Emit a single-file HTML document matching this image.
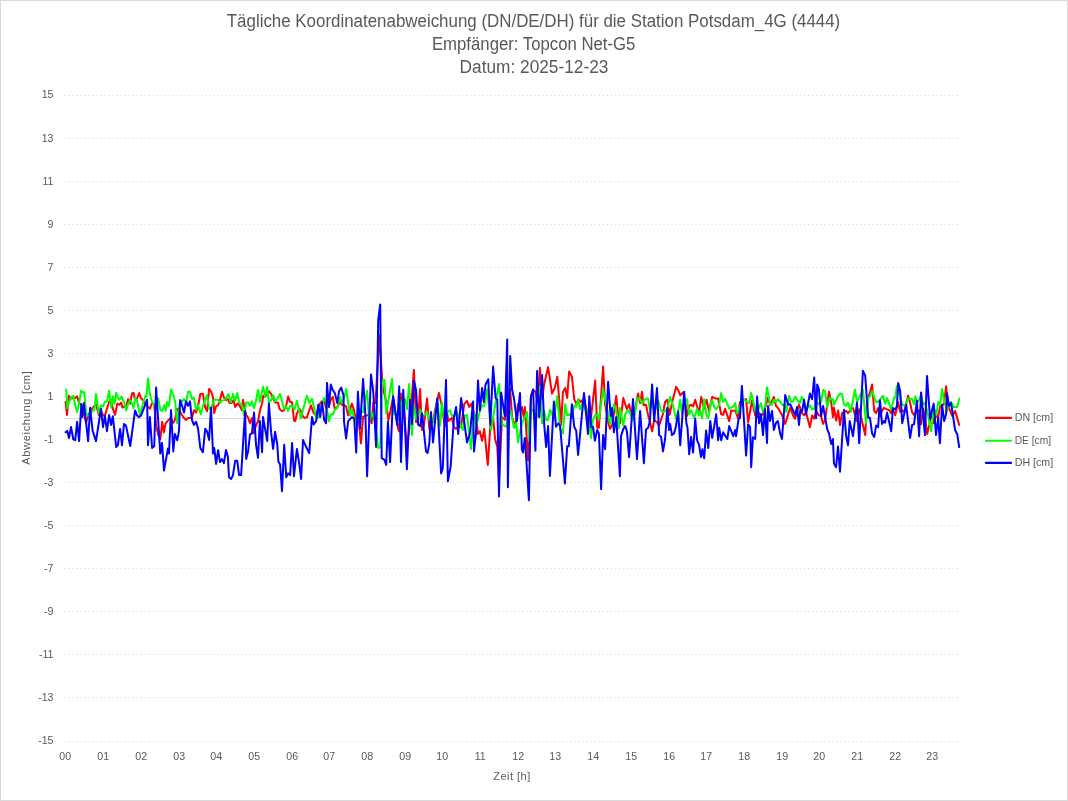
<!DOCTYPE html>
<html lang="de"><head><meta charset="utf-8"><title>Tägliche Koordinatenabweichung</title>
<style>
html,body{margin:0;padding:0;background:#fff;}
body{width:1068px;height:801px;overflow:hidden;font-family:"Liberation Sans",sans-serif;}
svg{display:block;}
text{font-family:"Liberation Sans",sans-serif;fill:#595959;}
.t{font-size:18px;text-anchor:middle;}
.a{font-size:10.6px;}
</style></head><body>
<svg width="1068" height="801" viewBox="0 0 1068 801">
<rect x="0.5" y="0.5" width="1067" height="800" fill="#fff" stroke="#D9D9D9" stroke-width="1"/>
<text class="t" x="533.5" y="27.4" textLength="613.5" lengthAdjust="spacingAndGlyphs">Tägliche Koordinatenabweichung (DN/DE/DH) für die Station Potsdam_4G (4444)</text>
<text class="t" x="533.7" y="50.4" textLength="203.5" lengthAdjust="spacingAndGlyphs">Empfänger: Topcon Net-G5</text>
<text class="t" x="534" y="72.5" textLength="148.8" lengthAdjust="spacingAndGlyphs">Datum: 2025-12-23</text>
<g stroke="#D9D9D9" stroke-width="1" stroke-dasharray="1.2 2.82" fill="none">
<line x1="64.2" y1="95.5" x2="959.5" y2="95.5"/>
<line x1="64.2" y1="138.5" x2="959.5" y2="138.5"/>
<line x1="64.2" y1="181.5" x2="959.5" y2="181.5"/>
<line x1="64.2" y1="224.5" x2="959.5" y2="224.5"/>
<line x1="64.2" y1="267.5" x2="959.5" y2="267.5"/>
<line x1="64.2" y1="310.5" x2="959.5" y2="310.5"/>
<line x1="64.2" y1="353.5" x2="959.5" y2="353.5"/>
<line x1="64.2" y1="396.5" x2="959.5" y2="396.5"/>
<line x1="64.2" y1="439.5" x2="959.5" y2="439.5"/>
<line x1="64.2" y1="482.5" x2="959.5" y2="482.5"/>
<line x1="64.2" y1="525.5" x2="959.5" y2="525.5"/>
<line x1="64.2" y1="568.5" x2="959.5" y2="568.5"/>
<line x1="64.2" y1="611.5" x2="959.5" y2="611.5"/>
<line x1="64.2" y1="654.5" x2="959.5" y2="654.5"/>
<line x1="64.2" y1="697.5" x2="959.5" y2="697.5"/>
<line x1="64.2" y1="741.5" x2="959.5" y2="741.5"/>
</g>
<line x1="64.2" y1="418.5" x2="959.5" y2="418.5" stroke="#D9D9D9" stroke-width="1"/>
<g class="a" text-anchor="end">
<text x="53.5" y="98.4">15</text>
<text x="53.5" y="141.5">13</text>
<text x="53.5" y="184.5">11</text>
<text x="53.5" y="227.6">9</text>
<text x="53.5" y="270.7">7</text>
<text x="53.5" y="313.7">5</text>
<text x="53.5" y="356.8">3</text>
<text x="53.5" y="399.9">1</text>
<text x="53.5" y="442.9">-1</text>
<text x="53.5" y="486.0">-3</text>
<text x="53.5" y="529.1">-5</text>
<text x="53.5" y="572.1">-7</text>
<text x="53.5" y="615.2">-9</text>
<text x="53.5" y="658.3">-11</text>
<text x="53.5" y="701.3">-13</text>
<text x="53.5" y="744.4">-15</text>
</g>
<g class="a" text-anchor="middle">
<text x="65.2" y="760">00</text>
<text x="103.2" y="760">01</text>
<text x="141.2" y="760">02</text>
<text x="179.2" y="760">03</text>
<text x="216.2" y="760">04</text>
<text x="254.2" y="760">05</text>
<text x="292.2" y="760">06</text>
<text x="329.2" y="760">07</text>
<text x="367.2" y="760">08</text>
<text x="405.2" y="760">09</text>
<text x="442.2" y="760">10</text>
<text x="480.2" y="760">11</text>
<text x="518.2" y="760">12</text>
<text x="555.2" y="760">13</text>
<text x="593.2" y="760">14</text>
<text x="631.2" y="760">15</text>
<text x="669.2" y="760">16</text>
<text x="706.2" y="760">17</text>
<text x="744.2" y="760">18</text>
<text x="782.2" y="760">19</text>
<text x="819.2" y="760">20</text>
<text x="857.2" y="760">21</text>
<text x="895.2" y="760">22</text>
<text x="932.2" y="760">23</text>
</g>
<text class="a" style="font-size:11px" text-anchor="middle" x="511.7" y="779.6" textLength="37" lengthAdjust="spacing">Zeit [h]</text>
<text class="a" style="font-size:11px" text-anchor="middle" transform="translate(29.8,418) rotate(-90)" textLength="93.6" lengthAdjust="spacing">Abweichung [cm]</text>
<polyline points="65.6,402.0 67.0,414.9 68.8,395.8 71.0,398.6 73.3,398.0 75.2,398.0 77.1,396.3 79.1,403.1 81.3,404.8 83.6,413.2 86.1,422.7 88.1,415.4 92.0,408.7 96.0,404.2 98.8,414.9 101.0,410.9 103.3,415.4 104.9,415.4 109.1,402.0 111.1,399.7 112.8,408.7 115.1,414.9 117.3,403.6 119.6,404.8 121.2,402.5 122.4,407.6 126.3,405.3 128.2,399.1 130.2,403.6 131.9,393.5 133.6,393.0 135.1,399.7 137.0,398.6 139.2,393.0 141.1,398.6 143.7,400.8 145.4,404.2 147.1,405.9 149.9,408.7 152.1,403.1 154.2,404.2 156.1,425.6 158.3,435.1 160.3,439.0 162.2,421.8 163.9,432.3 165.6,423.3 169.0,419.4 171.0,418.8 173.3,422.7 174.9,419.9 177.2,408.7 179.0,409.7 182.1,415.3 184.0,418.1 186.1,420.0 188.0,418.1 190.0,417.9 191.9,417.8 193.9,410.3 196.1,412.5 198.1,405.8 200.3,394.0 202.9,393.8 205.2,407.5 207.1,411.1 209.1,388.9 211.0,391.2 213.0,397.3 214.2,413.1 216.1,406.3 218.1,405.2 220.0,400.2 222.0,391.7 223.9,397.3 226.0,400.2 227.9,399.0 229.6,403.0 231.6,403.0 233.5,400.2 235.2,406.9 237.4,403.5 239.7,405.8 241.9,410.3 243.0,399.8 245.1,410.8 246.4,415.3 248.1,417.6 250.0,423.2 252.0,418.1 253.7,433.3 256.0,425.4 258.0,421.5 259.9,410.8 262.1,403.0 263.3,395.7 265.3,396.8 267.2,394.0 268.9,391.2 271.1,394.0 273.1,398.5 275.1,402.4 277.9,402.4 279.6,409.1 281.8,411.1 284.0,410.3 286.3,405.2 288.1,396.6 290.1,402.0 292.1,402.2 294.0,420.5 295.2,421.1 296.9,413.8 299.1,408.7 300.8,410.9 303.0,416.6 304.9,417.9 307.0,417.1 310.9,405.3 313.7,413.2 316.2,415.4 318.2,408.7 320.2,403.1 322.1,400.8 324.2,402.0 326.1,407.6 328.9,406.4 330.8,399.7 332.8,396.9 334.8,409.3 337.3,407.0 340.1,402.0 341.8,404.8 344.0,405.3 346.1,406.4 348.2,415.4 350.2,408.7 351.9,403.6 354.2,410.9 356.2,422.2 358.1,413.2 360.9,443.3 363.1,416.6 367.1,415.4 369.3,414.3 371.6,423.3 373.3,402.5 375.5,403.1 379.3,335.3 382.8,388.5 384.5,394.1 386.2,402.0 388.4,420.5 390.7,409.8 393.1,397.5 395.1,410.9 398.1,428.9 399.2,431.2 401.2,393.5 403.3,399.7 406.9,448.7 410.0,422.2 413.9,369.9 416.1,422.2 418.1,419.9 420.1,389.0 422.0,430.0 423.7,426.7 427.1,398.6 429.3,428.9 431.0,418.8 433.0,422.2 434.9,410.9 438.9,393.0 442.0,406.4 444.8,426.7 447.3,414.3 448.4,421.1 451.8,417.9 454.0,427.2 456.1,428.9 458.2,426.7 461.1,426.7 464.2,404.2 467.0,400.8 469.2,407.0 471.5,403.6 473.1,410.4 476.0,418.8 478.0,434.0 479.9,431.2 482.1,440.7 484.2,428.9 487.8,464.9 490.3,426.7 493.1,417.7 495.1,439.0 497.3,446.9 499.0,482.9 502.0,417.1 505.1,419.9 508.1,404.2 510.1,389.0 512.1,417.1 515.2,427.2 518.0,404.2 520.0,410.9 521.9,407.0 523.9,417.7 524.9,407.0 528.1,460.4 530.9,397.5 533.1,389.6 535.4,391.8 538.2,403.1 539.9,367.7 542.1,398.6 544.2,384.0 548.1,367.1 552.0,393.5 554.8,387.9 557.3,376.7 561.2,424.4 562.9,392.4 565.2,387.9 567.2,398.0 569.1,371.6 571.9,376.7 574.2,399.1 576.2,403.6 578.7,399.7 580.9,402.0 584.0,398.0 586.5,410.4 589.3,424.4 591.2,415.4 595.2,380.6 597.2,427.8 598.9,427.8 603.1,366.6 605.1,404.2 608.4,423.3 610.1,428.9 612.4,424.4 616.2,395.8 618.1,414.3 620.1,423.3 623.3,398.0 626.9,409.3 629.1,404.2 630.8,410.9 633.0,415.4 634.9,410.9 638.1,393.5 640.1,403.1 642.0,391.8 643.7,405.3 646.0,404.8 648.2,415.4 649.9,422.2 652.1,431.2 654.2,419.9 657.0,422.2 659.1,425.6 662.8,414.3 665.1,402.0 667.3,399.7 669.6,414.9 672.0,403.1 676.1,386.8 678.2,390.2 680.2,395.2 683.0,392.4 685.3,402.0 687.0,416.0 689.2,405.9 691.1,404.8 693.1,406.4 695.2,399.7 699.1,413.2 701.2,396.9 704.2,408.7 706.6,399.7 708.9,410.9 712.2,396.9 715.6,398.6 718.1,398.6 721.2,414.3 723.1,414.9 725.1,408.7 729.2,421.1 731.2,410.4 733.3,410.9 735.2,410.4 738.0,418.2 740.0,402.0 741.9,404.2 743.9,399.7 746.1,399.1 748.1,422.2 752.0,400.8 755.2,415.4 757.1,417.1 759.1,413.2 761.0,415.4 763.0,414.3 764.9,408.7 768.1,397.5 770.0,404.8 773.9,396.9 776.0,405.9 778.4,408.7 782.0,414.9 785.2,423.9 790.2,407.6 793.0,415.4 795.1,418.8 799.0,404.8 802.0,413.2 804.0,415.4 806.0,412.1 809.9,427.2 812.1,415.4 814.2,418.8 816.1,410.9 818.9,415.4 821.1,416.0 823.1,423.9 825.1,419.9 829.0,391.8 831.2,402.0 832.9,417.1 833.9,407.6 836.2,420.5 838.1,410.4 840.1,425.0 842.1,413.2 844.0,412.1 846.1,410.9 848.0,413.2 850.8,409.3 853.0,408.1 857.0,421.1 859.2,409.3 865.2,435.1 867.1,399.7 869.9,393.0 872.1,384.5 874.2,410.9 876.1,413.2 878.1,408.1 880.0,416.6 882.0,410.9 883.9,407.8 887.1,409.3 889.6,410.4 891.2,413.2 892.9,408.7 895.2,415.4 898.2,402.0 900.2,412.1 902.2,410.4 904.2,412.1 908.1,395.8 910.0,402.0 912.0,412.1 914.0,414.9 917.1,409.8 919.1,410.9 921.0,424.4 923.0,408.7 924.9,416.6 927.2,434.0 929.4,424.4 931.1,413.2 933.9,423.3 936.2,414.3 938.1,417.7 940.1,406.4 942.1,405.3 944.0,404.2 946.1,386.2 948.0,405.3 952.2,416.0 955.1,410.9 959.2,425.0" fill="none" stroke="#FF0000" stroke-width="2" stroke-linejoin="round" stroke-linecap="round"/>
<polyline points="66.2,389.6 67.3,408.1 69.0,402.0 71.0,398.0 73.3,395.8 75.2,405.3 77.1,412.1 79.1,403.1 81.1,390.7 82.5,392.4 84.2,392.1 86.1,413.2 88.1,416.0 90.1,413.8 92.6,410.9 94.3,410.4 96.0,393.9 98.8,413.2 101.0,405.3 103.0,406.4 104.9,402.0 107.0,401.4 109.1,390.7 111.1,407.6 112.8,396.3 114.5,404.2 116.2,392.7 117.9,398.0 119.6,399.7 121.6,396.6 124.0,402.0 126.3,410.4 128.2,403.6 130.2,400.3 131.9,403.1 133.6,408.1 135.1,398.0 137.0,400.8 140.0,414.9 143.1,403.1 145.4,395.8 146.5,396.9 148.0,378.6 149.9,394.1 152.1,402.0 154.2,404.8 156.1,403.1 158.3,398.6 160.3,409.8 162.2,410.9 164.3,405.3 165.6,410.9 167.3,402.0 169.0,405.9 171.0,389.6 173.3,395.2 175.2,402.0 177.2,423.3 179.0,409.7 180.1,400.2 182.1,401.3 184.0,399.0 186.1,403.0 188.0,391.7 190.0,391.7 191.9,399.0 193.9,397.9 196.1,409.7 198.1,405.4 200.9,414.2 202.9,406.3 205.2,400.2 207.1,395.1 209.1,408.6 211.0,409.7 213.0,402.4 214.2,399.8 218.1,399.8 220.0,403.0 222.0,400.5 223.9,400.2 226.0,398.5 228.4,394.0 230.7,402.4 232.9,394.0 235.2,400.7 237.2,392.9 239.1,402.4 241.9,405.2 244.2,415.3 246.2,402.4 248.1,402.4 250.0,405.8 252.0,401.3 254.0,408.0 256.0,400.7 258.0,390.0 259.9,401.8 263.0,386.7 265.3,396.8 267.2,386.7 268.9,402.4 271.1,400.2 273.1,395.1 275.1,401.3 277.9,397.9 280.1,393.8 283.9,408.7 286.2,406.4 288.1,410.9 290.1,405.9 292.1,405.9 294.6,409.3 296.9,400.8 300.8,418.2 303.0,409.8 307.0,395.8 309.4,403.1 312.0,398.6 316.2,417.7 318.2,417.9 320.2,408.7 322.1,402.0 324.2,398.0 326.1,403.1 328.9,421.3 330.8,414.5 332.8,414.5 334.8,409.8 337.3,407.8 340.1,396.9 341.8,403.1 344.0,398.6 346.1,389.0 350.2,415.4 351.9,409.3 354.2,418.2 356.2,424.4 358.1,410.9 363.1,412.1 367.1,390.7 369.3,421.6 371.6,412.6 374.4,419.9 376.6,435.7 378.3,448.0 380.3,446.9 382.2,380.6 384.5,380.0 386.2,413.2 392.0,378.9 393.9,414.3 396.2,413.2 399.2,415.4 401.2,402.0 403.3,404.2 405.2,399.1 406.9,409.3 409.1,384.0 411.9,435.1 413.9,405.3 416.1,418.8 420.1,409.8 422.6,417.1 424.8,414.3 427.1,412.1 429.3,419.9 431.0,418.8 433.0,422.2 434.9,415.4 437.2,399.7 440.2,425.6 442.0,402.0 443.9,417.7 446.0,415.4 448.4,410.9 450.1,410.4 451.8,415.4 454.0,417.1 456.1,410.9 458.2,415.4 461.1,427.2 463.0,430.0 464.7,416.0 467.0,414.9 470.9,449.1 474.0,413.2 476.5,424.4 479.9,410.9 482.1,405.3 484.2,405.9 487.2,389.6 491.1,430.0 495.6,402.0 499.0,384.0 502.0,424.4 506.2,426.7 508.1,416.6 510.7,410.9 514.0,427.8 516.3,422.7 518.0,442.4 521.9,423.3 527.0,412.1 529.2,441.3 530.9,408.7 538.2,416.6 539.9,386.8 542.1,423.3 544.2,410.9 546.1,419.9 548.1,419.9 550.0,409.8 552.0,413.2 553.9,419.9 557.3,396.3 560.1,428.9 562.9,433.4 565.2,404.2 567.2,415.4 569.1,414.3 571.9,417.7 574.2,405.3 576.2,407.0 578.1,399.1 580.0,409.3 582.6,403.1 585.4,409.8 588.0,409.8 591.0,437.9 593.0,419.9 595.2,414.9 597.2,414.9 598.9,419.9 603.1,389.6 606.7,406.4 610.1,424.4 613.9,404.2 616.2,410.9 618.8,428.4 620.1,408.1 623.3,425.6 625.2,414.3 627.4,410.4 629.7,412.1 632.5,419.9 634.9,414.3 637.0,399.7 639.2,397.5 642.0,403.6 643.7,400.8 646.0,398.6 648.2,398.8 649.9,409.8 652.1,403.1 654.9,410.9 658.3,400.8 661.1,410.9 663.9,412.1 667.3,409.3 670.1,396.9 672.9,405.3 676.1,418.8 678.2,410.9 680.2,399.7 681.9,413.2 684.2,402.0 687.0,399.1 689.2,414.3 691.1,410.4 694.3,418.2 697.1,408.7 699.1,415.4 700.4,410.9 702.1,418.2 704.2,399.1 706.6,415.4 708.3,418.2 711.1,402.0 712.2,400.3 714.5,407.6 716.2,409.3 719.0,405.3 721.2,393.0 723.1,402.0 725.1,398.6 729.2,408.7 733.3,406.4 735.2,403.1 736.9,413.2 738.5,410.9 741.9,402.0 743.9,399.7 749.2,403.1 751.2,393.0 755.2,410.4 757.1,413.2 759.1,407.0 761.0,403.1 763.0,412.6 764.9,409.8 767.0,387.3 770.0,403.6 772.0,404.8 773.9,399.7 776.0,402.0 777.9,399.1 782.9,405.3 785.2,404.2 786.3,412.1 789.1,395.8 791.3,402.0 793.0,401.4 795.1,396.9 799.8,403.1 802.0,396.9 804.0,400.8 806.0,409.8 809.9,405.3 812.1,409.3 814.2,408.7 816.1,402.0 818.9,404.2 821.1,402.0 823.1,389.8 825.1,391.3 827.3,407.6 829.6,398.0 831.2,399.7 832.9,399.1 834.0,404.8 838.1,396.3 840.1,393.5 842.1,394.1 844.0,404.2 846.1,405.9 848.0,402.5 850.8,412.1 854.9,389.8 857.0,402.0 862.9,389.6 866.0,423.3 868.2,397.5 869.9,396.9 872.1,391.3 876.1,402.0 878.1,402.0 880.0,399.7 882.8,395.8 885.1,403.6 887.1,398.0 891.2,409.3 894.0,398.0 895.2,397.5 896.9,385.7 898.2,388.5 900.2,397.5 902.2,404.8 904.2,405.3 906.2,404.8 908.1,398.6 912.0,399.1 914.0,404.2 915.4,396.3 917.1,403.1 919.1,399.7 921.0,395.2 923.0,404.2 924.9,403.1 927.2,410.9 931.1,431.2 933.9,407.0 936.2,415.4 938.1,402.0 940.1,405.3 942.1,389.0 944.0,399.7 947.2,410.9 949.1,403.6 951.1,402.0 953.4,407.0 957.3,407.0 959.2,398.6" fill="none" stroke="#00FF00" stroke-width="2" stroke-linejoin="round" stroke-linecap="round"/>
<polyline points="65.6,432.3 67.3,430.9 69.0,438.1 71.0,426.9 73.3,439.3 75.2,440.2 77.1,421.8 79.1,441.1 81.3,404.2 82.2,417.1 83.9,402.9 88.1,441.1 90.1,407.8 92.6,430.6 96.0,441.1 101.0,408.7 103.0,427.2 104.9,416.0 107.0,431.2 109.1,414.9 111.1,425.0 112.8,416.2 116.2,447.1 117.9,445.2 120.1,428.9 122.0,445.2 124.0,423.9 126.0,425.6 130.2,446.0 135.1,410.4 137.0,415.4 139.2,417.1 141.1,415.4 147.1,399.7 148.0,445.2 149.9,417.1 152.1,448.0 154.2,446.3 156.1,387.6 160.3,453.6 162.0,443.0 164.0,470.6 167.9,448.6 169.0,453.6 171.0,410.0 173.3,451.4 174.9,434.0 177.2,440.2 179.0,431.1 180.1,400.2 182.1,405.8 184.0,412.5 186.1,401.3 188.0,405.8 190.0,401.3 191.9,419.8 193.9,424.9 196.1,421.8 198.1,428.8 200.3,447.9 202.9,452.2 205.2,428.8 207.1,431.6 209.1,440.0 211.0,407.5 213.0,453.5 214.2,447.9 216.1,463.9 218.1,450.2 220.0,462.0 222.0,459.1 223.9,463.1 226.0,449.9 227.9,456.9 229.0,477.3 231.0,479.0 232.9,475.6 235.2,460.7 237.2,460.7 239.1,475.1 241.1,475.1 245.1,411.1 246.2,459.1 248.1,451.3 250.0,434.4 252.0,433.3 254.0,412.5 256.0,444.5 258.0,457.8 259.9,420.9 262.1,452.2 263.0,417.0 267.2,440.9 268.9,403.5 271.1,432.2 273.1,449.0 275.1,431.8 277.3,444.5 278.4,461.6 280.1,464.4 282.0,491.3 284.2,444.7 286.2,477.3 288.1,473.4 290.1,475.1 292.1,443.0 294.0,476.2 296.9,449.0 299.1,462.7 301.1,479.0 303.0,440.0 304.9,444.2 309.2,453.1 312.0,417.1 313.7,424.4 316.2,421.1 318.2,404.8 320.2,417.1 322.1,402.5 324.2,419.9 326.1,423.3 327.0,382.9 328.9,407.0 330.8,384.5 332.8,390.2 334.8,393.0 337.3,403.1 339.0,391.3 341.2,387.6 343.5,395.2 344.0,421.1 346.1,438.5 348.2,421.1 351.9,417.1 354.2,418.8 356.2,452.5 357.9,391.8 360.0,428.4 363.1,378.9 365.4,415.4 367.1,476.2 371.0,374.4 373.3,391.8 376.1,446.9 378.2,320.2 380.2,304.4 381.7,458.2 384.5,459.9 386.2,464.9 387.9,421.7 390.1,462.1 393.1,396.3 397.3,425.0 399.2,386.2 401.0,462.1 403.3,389.8 406.9,469.2 410.0,399.7 411.9,423.9 413.9,380.6 416.1,390.2 418.1,424.4 420.3,426.1 422.0,413.2 426.0,451.4 427.6,453.1 429.3,443.5 431.0,412.1 433.0,442.4 437.2,398.6 441.1,473.4 442.8,468.3 446.0,380.0 447.9,481.2 450.7,466.1 454.0,417.1 456.1,407.0 458.2,434.0 461.1,398.0 467.0,442.4 470.0,433.4 473.1,401.4 474.0,451.4 476.0,433.4 478.0,380.6 479.9,410.4 482.1,387.9 483.8,402.0 485.5,384.5 488.3,379.3 490.3,425.0 493.1,366.6 495.6,398.0 497.3,399.5 499.0,496.4 501.1,392.4 504.9,416.6 507.2,339.5 507.9,487.2 510.2,356.0 512.1,389.6 514.0,398.6 516.9,421.1 520.0,393.0 521.9,449.7 523.0,452.5 524.9,437.9 528.9,500.3 530.9,396.3 533.1,389.6 535.4,450.8 537.1,371.1 539.3,417.1 542.1,375.0 544.2,424.4 546.1,446.9 548.1,426.1 549.9,475.9 553.9,401.4 556.0,426.7 558.4,423.3 560.1,425.6 564.9,483.4 567.2,446.3 568.8,446.3 571.9,404.2 574.2,426.7 576.2,430.6 578.1,454.9 584.0,393.0 588.0,434.0 589.3,396.3 591.2,427.2 593.0,426.7 594.9,440.7 597.2,430.0 598.9,433.4 601.1,489.1 603.1,435.1 605.1,449.1 608.1,381.7 610.7,416.0 612.0,408.1 613.9,432.3 616.2,417.1 619.9,476.2 621.0,436.2 623.3,428.9 625.2,426.1 626.9,431.2 629.1,457.1 633.0,399.1 637.0,459.1 640.1,410.9 643.9,463.3 646.0,429.5 648.2,427.8 649.9,421.1 652.1,384.5 654.2,421.1 657.0,387.9 659.1,435.1 661.1,436.8 663.0,451.4 665.1,439.0 667.3,408.1 669.0,430.0 670.1,423.9 672.0,435.1 674.0,433.4 675.7,427.8 678.2,411.5 680.2,445.2 684.2,391.8 686.4,423.3 687.5,427.8 689.2,454.2 691.1,436.8 693.1,452.5 695.2,418.8 697.1,440.2 699.1,445.2 701.0,457.1 702.4,449.2 704.2,458.2 706.1,430.6 708.3,448.0 710.3,421.1 712.2,437.9 716.2,414.3 718.1,440.2 719.2,427.8 721.2,440.2 723.1,432.3 727.3,439.0 729.2,426.1 733.3,436.2 735.2,430.0 736.1,436.2 738.5,419.4 740.0,417.7 741.9,386.0 746.1,455.4 748.1,424.4 750.1,427.2 751.2,467.2 752.9,437.3 755.2,439.0 757.1,396.6 759.1,423.3 761.0,414.3 763.0,435.1 764.9,408.7 767.0,443.0 768.1,405.9 770.0,421.1 772.0,410.9 773.9,430.0 776.0,422.7 777.9,421.1 780.1,433.4 782.0,439.0 785.2,395.0 788.2,404.8 790.2,404.2 795.1,414.9 797.0,407.0 799.0,425.0 800.3,410.4 802.0,411.5 804.0,399.7 806.0,414.3 809.9,393.5 812.1,399.1 814.2,377.5 816.1,418.2 817.2,384.5 818.9,389.0 821.1,416.0 823.1,405.9 827.3,429.5 829.0,433.4 831.2,444.1 832.9,439.0 834.0,463.8 836.1,467.2 838.0,446.4 840.0,471.7 844.0,409.8 846.1,435.7 848.0,445.2 849.7,421.1 853.0,436.2 857.0,402.5 859.2,443.3 862.9,370.7 865.2,375.6 868.2,417.7 869.9,417.7 872.1,433.4 874.2,437.0 876.1,425.6 878.1,427.2 880.0,400.3 882.0,423.9 883.9,421.1 885.1,422.7 887.1,412.6 891.2,431.2 892.9,408.1 895.2,409.3 896.9,406.4 898.2,382.9 900.2,390.9 902.2,423.3 906.2,404.8 910.1,437.9 912.1,425.0 914.0,424.4 916.9,400.8 919.1,436.2 921.1,392.4 924.9,435.1 927.0,375.9 930.1,418.8 931.8,410.9 933.7,403.6 936.0,435.1 938.2,417.7 939.9,443.3 942.1,404.8 944.2,421.1 946.1,414.3 947.0,393.5 949.1,405.9 951.1,403.1 955.1,430.0 957.3,434.5 959.2,447.1" fill="none" stroke="#0000FF" stroke-width="2" stroke-linejoin="round" stroke-linecap="round"/>
<line x1="986" y1="417.9" x2="1011" y2="417.9" stroke="#FF0000" stroke-width="2.1" stroke-linecap="round"/>
<text class="a" x="1014.7" y="420.9" textLength="38.5" lengthAdjust="spacingAndGlyphs">DN [cm]</text>
<line x1="986" y1="440.8" x2="1011" y2="440.8" stroke="#00FF00" stroke-width="2.1" stroke-linecap="round"/>
<text class="a" x="1014.7" y="443.5" textLength="36.3" lengthAdjust="spacingAndGlyphs">DE [cm]</text>
<line x1="986" y1="462.9" x2="1011" y2="462.9" stroke="#0000FF" stroke-width="2.1" stroke-linecap="round"/>
<text class="a" x="1014.7" y="465.5" textLength="38.5" lengthAdjust="spacingAndGlyphs">DH [cm]</text>
</svg>
</body></html>
